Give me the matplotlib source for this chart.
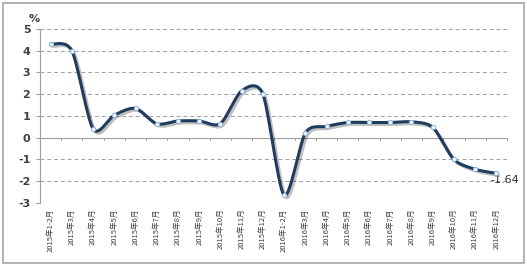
import numpy as np
import matplotlib
matplotlib.use("Agg")
import matplotlib.pyplot as plt
import matplotlib.patheffects as pe
from matplotlib.patches import Rectangle

# === Данные ===
months = ["2015年1-2月", "2015年3月", "2015年4月", "2015年5月", "2015年6月", "2015年7月",
          "2015年8月", "2015年9月", "2015年10月", "2015年11月", "2015年12月",
          "2016年1-2月", "2016年3月", "2016年4月", "2016年5月", "2016年6月", "2016年7月",
          "2016年8月", "2016年9月", "2016年10月", "2016年11月", "2016年12月"]
values = [4.3, 4.0, 0.4, 1.04, 1.35, 0.64, 0.77, 0.77, 0.65, 2.16, 2.0,
          -2.65, 0.22, 0.52, 0.70, 0.70, 0.70, 0.73, 0.48, -1.0, -1.45, -1.64]
yticks = [5, 4, 3, 2, 1, 0, -1, -2, -3]

plt.rcParams['font.family'] = ['DejaVu Sans']


def smooth(xs, ys, n=30, k=7.5):
    # сглаживание как в Excel (кривые Безье)
    px = np.concatenate([[xs[0]], xs, [xs[-1]]])
    py = np.concatenate([[ys[0]], ys, [ys[-1]]])
    out_x, out_y = [], []
    t = np.linspace(0, 1, n)
    for i in range(1, len(px) - 2):
        p0 = np.array([px[i], py[i]])
        p3 = np.array([px[i + 1], py[i + 1]])
        c1 = p0 + (np.array([px[i + 1], py[i + 1]]) - np.array([px[i - 1], py[i - 1]])) / k
        c2 = p3 - (np.array([px[i + 2], py[i + 2]]) - np.array([px[i], py[i]])) / k
        b = ((1 - t) ** 3)[:, None] * p0 + (3 * (1 - t) ** 2 * t)[:, None] * c1 \
            + (3 * (1 - t) * t ** 2)[:, None] * c2 + (t ** 3)[:, None] * p3
        out_x.extend(b[:, 0])
        out_y.extend(b[:, 1])
    return np.array(out_x), np.array(out_y)


fig = plt.figure(figsize=(5.27, 2.66), dpi=100)
fig.patches.append(Rectangle((0.006, 0.012), 0.988, 0.976, transform=fig.transFigure,
                             fill=False, edgecolor="#a6a6a6", linewidth=1.2))
ax = fig.add_axes([0.076, 0.237, 0.886, 0.654])

x = np.arange(len(values))
sx, sy = smooth(x, np.array(values))
ax.plot(sx, sy, color="#1f3b5e", linewidth=2.2, zorder=3,
        path_effects=[pe.SimpleLineShadow(offset=(1.5, -1.5), alpha=0.25), pe.Normal()])
ax.plot(x, values, linestyle="none", marker="o", markersize=3,
        markerfacecolor="white", markeredgecolor="#8fb4e3", markeredgewidth=0.8, zorder=4)

ax.annotate("-1.64", (x[-1], values[-1]), xytext=(-4, -5), textcoords="offset points",
            fontsize=8, color="#303030", ha="left", va="center")

ax.set_xlim(-0.5, len(values) - 0.5)
ax.set_ylim(-3, 5)
ax.set_yticks(yticks)
ax.set_yticklabels([str(v) for v in yticks], fontsize=8, fontweight="bold", color="#404040")
for v in yticks:
    if v != 0:
        ax.axhline(v, color="#a0a0a0", linestyle=(0, (4, 3)), linewidth=0.7, zorder=1)
ax.axhline(0, color="#a0a0a0", linewidth=0.8, zorder=2)

ax.set_xticks(x)
ax.set_xticklabels(months, rotation=90, fontsize=5.5, color="#404040",
                   family=["Noto Sans CJK SC", "DejaVu Sans"])
ax.tick_params(axis="x", length=0, pad=4)
ax.tick_params(axis="y", length=3, color="#a0a0a0", pad=4)
# маленькие риски на нулевой оси
for b in np.arange(len(values) + 1) - 0.5:
    ax.plot([b, b], [0, -0.1], color="#a0a0a0", linewidth=0.7, zorder=2, clip_on=False)

for s in ["top", "right", "bottom"]:
    ax.spines[s].set_visible(False)
ax.spines["left"].set_color("#a0a0a0")

fig.text(0.055, 0.93, "%", fontsize=8, fontweight="bold", color="#404040", ha="left", va="center")

fig.savefig("out.png", dpi=100)
